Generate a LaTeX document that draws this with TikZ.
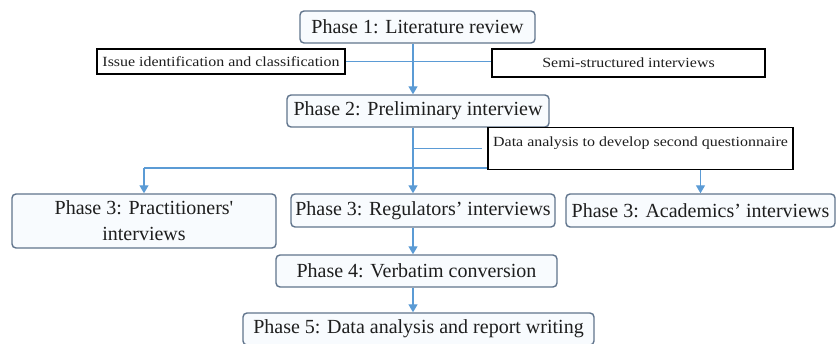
\documentclass[tikz,border=0pt]{standalone}
\usepackage{fontspec}
\setmainfont{Liberation Serif}
\newfontfamily\widefont[FakeStretch=1.14]{Liberation Serif}
\usetikzlibrary{arrows.meta,positioning,calc}
\definecolor{linkblue}{RGB}{91,155,213}
\definecolor{phaseedge}{RGB}{96,116,140}
\definecolor{phasefill}{RGB}{248,251,254}
\definecolor{inktext}{RGB}{30,30,30}

\begin{document}
\begin{tikzpicture}[x=1pt, y=-1pt,
  phase/.style={draw=phaseedge, line width=1.4pt, rounded corners=4pt, fill=phasefill, text=inktext, font=\fontsize{20}{26}\selectfont, inner sep=0pt, align=center, minimum height=32pt},
  note/.style={draw=black, line width=1.3pt, fill=white, text=inktext, font=\widefont\fontsize{14}{16}\selectfont, inner sep=0pt},
  arrow/.style={-{Triangle[width=9pt,length=8pt]}, line width=1.4pt, draw=linkblue},
  link/.style={line width=1.4pt, draw=linkblue}]
  \useasboundingbox (0,0) rectangle (838,344);
  \coordinate (trunk) at (413,0);
  \coordinate (fork) at (413,168);
  % main phases
  \node[phase, minimum width=235pt] (p1) at (417.5,27) {Phase 1: Literature review};
  \node[phase, minimum width=262pt] (p2) at (418,111) {Phase 2: Preliminary interview};
  \node[phase, minimum width=264pt, minimum height=54pt] (prac) at (144,221) {Phase 3: Practitioners\textquotesingle\\interviews};
  \node[phase, minimum width=264pt, minimum height=33pt] (reg) at (423,210.5) {Phase 3: Regulators’ interviews};
  \node[phase, minimum width=269pt, minimum height=33pt] (acad) at (700.5,210.5) {Phase 3: Academics’ interviews};
  \node[phase, minimum width=281pt] (p4) at (416.5,271) {Phase 4: Verbatim conversion};
  \node[phase, minimum width=351pt] (p5) at (418.5,329) {Phase 5: Data analysis and report writing};
  % side notes
  \node[note, minimum width=248pt, minimum height=25pt] (issue) at (221,61.5) {Issue identification and classification};
  \node[note, minimum width=273pt, minimum height=28pt] (semi) at (628.5,63) {Semi-structured interviews};
  \draw[link] (issue.east) -- (issue.east -| semi.west);
  \draw[arrow] (p1.south -| trunk) -- (p2.north -| trunk);
  \draw[link] (p2.south -| trunk) -- (fork);
  \draw[link] (prac.north |- fork) -- (acad.north |- fork);
  \node[note, minimum width=305pt, text height=19pt, text depth=23pt, anchor=north] (data) at (640.5,127) {Data analysis to develop second questionnaire};
  \draw[link] (trunk |- data.west) -- ([xshift=-5pt]data.west);
  \draw[arrow] (prac.north |- fork) -- (prac.north);
  \draw[arrow] (fork) -- (reg.north -| fork);
  \draw[arrow] (data.south -| acad.north) -- (acad.north);
  \draw[arrow] (reg.south -| trunk) -- (p4.north -| trunk);
  \draw[arrow] (p4.south -| trunk) -- (p5.north -| trunk);
\end{tikzpicture}
\end{document}
